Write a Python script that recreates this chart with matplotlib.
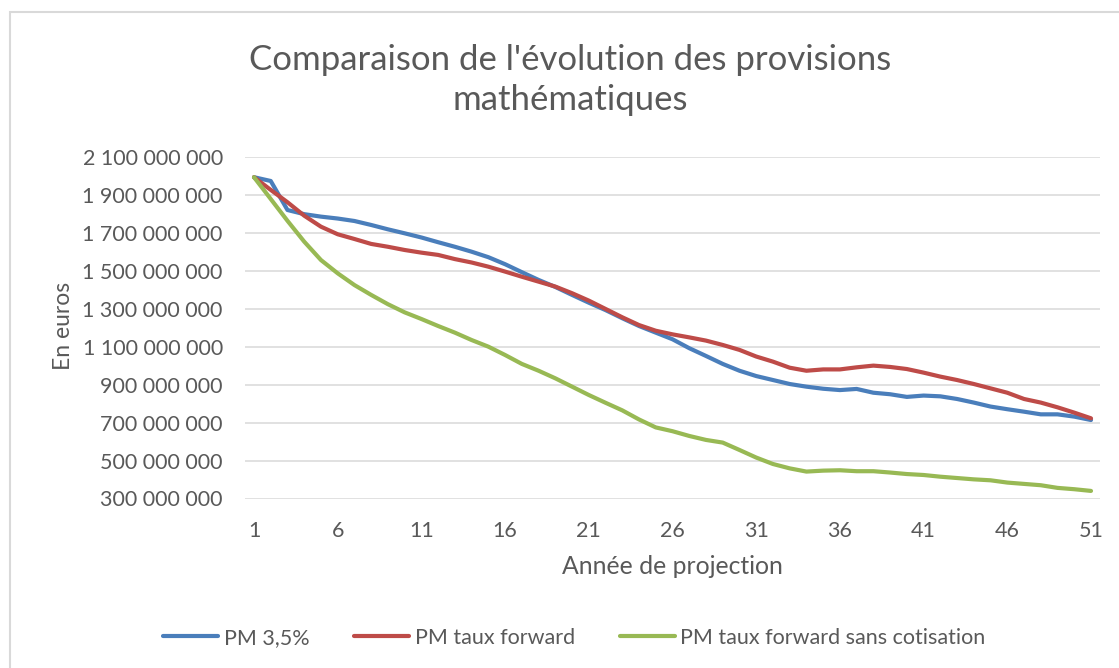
import matplotlib.pyplot as plt
import matplotlib.ticker as mticker
from matplotlib.patches import Rectangle

plt.rcParams['font.family'] = ['Lato', 'DejaVu Sans']

# values in millions of euros, years 1..51
years = list(range(1, 52))
pm_35 = [1995, 1975, 1822, 1800, 1787, 1777, 1764, 1743, 1720, 1699,
         1677, 1652, 1628, 1602, 1573, 1536, 1494, 1453, 1416, 1374,
         1333, 1294, 1251, 1210, 1175, 1140, 1093, 1052, 1010, 974,
         946, 925, 904, 890, 879, 872, 878, 858, 850, 836,
         843, 839, 825, 806, 785, 771, 758, 744, 744, 732, 714]
pm_forward = [1995, 1928, 1863, 1792, 1734, 1694, 1669, 1643, 1628, 1611,
              1597, 1585, 1563, 1545, 1523, 1497, 1470, 1444, 1418, 1383,
              1344, 1300, 1256, 1215, 1185, 1166, 1150, 1133, 1110, 1084,
              1049, 1022, 990, 974, 981, 981, 992, 1001, 994, 983,
              964, 943, 925, 904, 881, 858, 825, 806, 781, 753, 723]
pm_forward_sans = [1995, 1880, 1765, 1655, 1558, 1488, 1426, 1374, 1325, 1282,
                   1247, 1210, 1175, 1136, 1101, 1057, 1010, 974, 934, 890,
                   846, 805, 765, 717, 675, 655, 630, 609, 595, 556,
                   516, 482, 459, 442, 447, 449, 444, 444, 437, 429,
                   424, 415, 408, 401, 396, 384, 377, 370, 356, 349, 340]
labels = ['PM 3,5%', 'PM taux forward', 'PM taux forward sans cotisation']
colors = ['#4A7EBB', '#BE4B48', '#98B954']
xticks = list(range(1, 52, 5))

W, H = 1119, 668
fig = plt.figure(figsize=(W / 100, H / 100), dpi=100)
ax = fig.add_axes([245 / W, 1 - 498.5 / H, (1100 - 245) / W, (498.5 - 157.3) / H])

txt = '#595959'
for series, lab, col in zip([pm_35, pm_forward, pm_forward_sans], labels, colors):
    ax.plot(years, [v * 1e6 for v in series], color=col, lw=3.0, label=lab,
            solid_capstyle='round', solid_joinstyle='round')

ax.set_xlim(1 - 9 / 16.75, 51 + 9 / 16.75)
ax.set_ylim(300e6, 2100e6)
ax.set_yticks([v * 1e6 for v in range(300, 2101, 200)])
ax.set_xticks(xticks)
ax.yaxis.set_major_formatter(mticker.FuncFormatter(lambda v, p: f"{int(round(v)):,}".replace(",", " ")))
ax.grid(axis='y', color='#d9d9d9', lw=1.1)
ax.set_axisbelow(True)
for s in ax.spines.values():
    s.set_visible(False)
ax.tick_params(length=0, labelsize=15.5, colors=txt)
ax.tick_params(axis='x', pad=16)
ax.tick_params(axis='y', pad=16)

fig.text(570 / W, 1 - 80 / H, "Comparaison de l'évolution des provisions\nmathématiques",
         ha='center', va='center', fontsize=25, color=txt, linespacing=1.3)
fig.text(672 / W, 1 - 567 / H, "Année de projection", ha='center', va='center',
         fontsize=17.8, color=txt)
fig.text(63 / W, 1 - 326 / H, "En euros", ha='center', va='center', rotation=90,
         fontsize=16.5, color=txt)

fig.legend(loc='center', bbox_to_anchor=(574.5 / W, 1 - 638 / H), ncol=3, frameon=False,
           fontsize=15.5, labelcolor=txt, handlelength=2.55, handletextpad=0.25,
           columnspacing=2.1)

fig.patches.append(Rectangle((10 / W, -0.1), 1.2, 1.1 - 12 / H, transform=fig.transFigure,
                             fill=False, edgecolor='#d9d9d9', lw=1.5))

fig.savefig('out.png', dpi=100)
